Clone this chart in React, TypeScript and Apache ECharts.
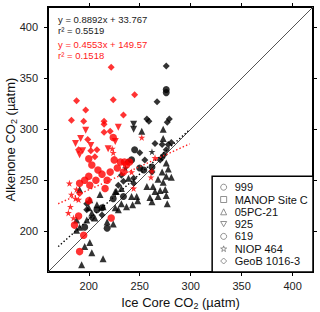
import React, { useEffect, useRef } from "react";
import * as echarts from "echarts";

const AXIS_MIN = 160;
const AXIS_MAX = 420;
const TICKS = [200, 250, 300, 350, 400];

const black05PC21 = [
  [211, 236], [226, 239], [232, 242], [200, 223], [203, 218], [206, 213], [198, 211], [208, 226],
  [218, 209], [224, 207], [196, 185], [201, 189], [203, 179], [214, 173], [193, 167], [232, 227],
  [229, 221], [237, 224], [188, 211], [191, 204], [188, 201], [201, 231], [191, 241], [227, 239],
  [214, 224], [226, 223], [239, 252], [278, 261], [272, 258], [276, 254], [281, 253], [268, 251],
  [273, 248], [257, 244], [263, 244], [265, 239], [270, 240], [275, 241], [276, 235], [260, 233],
  [262, 229], [247, 234], [248, 230], [242, 234], [243, 226], [277, 227], [268, 234], [252, 298],
  [273, 300], [273, 291], [276, 267],
];
const black999 = [
  [224, 232], [218, 203], [234, 234], [213, 223], [196, 204], [208, 221], [245, 280], [242, 270],
  [254, 260], [262, 263], [276, 336], [250, 262], [276, 339],
];
const blackGeoB = [
  [276, 362], [267, 327], [257, 310], [259, 308], [279, 310], [277, 307], [265, 286], [250, 277],
  [278, 285], [281, 287], [276, 280], [272, 272], [274, 275], [272, 285], [229, 245], [234, 249],
  [232, 255], [198, 221], [203, 213], [213, 216], [198, 227], [244, 252], [244, 247], [270, 270],
  [262, 258], [255, 270], [238, 268],
];
const black925 = [[244, 305], [244, 300]];
const blackNIOP = [[262, 278], [236, 262]];

const red619 = [
  [224, 292], [200, 271], [225, 270], [231, 268], [235, 268], [240, 268], [221, 258], [234, 258],
  [207, 250], [218, 250], [200, 254], [196, 250], [201, 245], [216, 242], [191, 247], [209, 260],
  [237, 265], [203, 265], [200, 230], [190, 215], [186, 206], [195, 196], [222, 213], [191, 180],
  [228, 262], [213, 256],
];
const redGeoB = [
  [222, 361], [188, 328], [224, 329], [197, 319], [234, 314], [183, 309], [195, 308], [215, 308],
  [215, 305], [215, 297], [221, 298], [199, 290], [190, 280], [202, 279], [208, 280], [206, 273],
  [245, 334], [191, 237],
];
const red925 = [
  [229, 302], [197, 299], [226, 288], [192, 291], [187, 286], [202, 284], [194, 279], [191, 275],
  [219, 281],
];
const redNIOP = [
  [223, 281], [224, 277], [252, 292], [265, 272], [181, 247], [188, 241], [183, 236], [190, 231],
  [180, 218], [185, 213], [182, 224], [187, 232], [262, 259], [261, 253], [244, 242], [242, 258],
];

const blackFitCoef = [0.8892, 33.767];
const blackFitR2 = 0.5519;
const redFitCoef = [0.4553, 149.57];
const redFitR2 = 0.1518;
const fitXRange = [170, 299];

const siteNames = ["999", "MANOP Site C", "05PC-21", "925", "619", "NIOP 464", "GeoB 1016-3"];

const FONT = "'Liberation Sans', Arial, Helvetica, sans-serif";
const DOWN_TRI = "path://M0,0 L100,0 L50,86.6 Z";
const STAR =
  "path://M50,0 L61.8,36.2 L100,36.2 L69.1,58.8 L80.9,95.1 L50,72.6 L19.1,95.1 L30.9,58.8 L0,36.2 L38.2,36.2 Z";
const legendIcons = ["circle", "rect", "triangle", DOWN_TRI, "circle", STAR, "diamond"];

export default function App() {
  const ref = useRef<HTMLDivElement>(null);
  useEffect(() => {
    if (!ref.current) return;
    const chart = echarts.init(ref.current, undefined, { renderer: "svg" });

    const scatter = (name: string, data: number[][], symbol: string, size: number, color: string, z = 3) => ({
      type: "scatter",
      name,
      data,
      symbol,
      symbolSize: size,
      itemStyle: { color },
      z,
    });
    const fitLine = (coef: number[], color: string) => ({
      type: "line",
      name: "fit-" + color,
      data: fitXRange.map((x) => [x, coef[0] * x + coef[1]]),
      symbol: "none",
      lineStyle: { color, width: 1.4, type: [1.4, 2.2] },
      z: 4,
      silent: true,
    });

    const axisCommon = {
      type: "value",
      min: AXIS_MIN,
      max: AXIS_MAX,
      splitLine: { show: false },
      axisLine: { show: false },
      axisTick: { show: true, length: 4, lineStyle: { color: "#000", width: 1 }, customValues: TICKS },
    };

    const nameRich = {
      n: { fontSize: 13, fontFamily: FONT, color: "#111", lineHeight: 16 },
      s: { fontSize: 9, fontFamily: FONT, color: "#111", lineHeight: 9, padding: [8, 0, 0, 0], verticalAlign: "bottom" },
    };

    const option = {
      animation: false,
      grid: {
        left: 48,
        top: 7,
        width: 265,
        height: 265,
        containLabel: false,
        outerBoundsMode: "none",
        show: true,
        borderColor: "#000",
        borderWidth: 2,
        backgroundColor: "transparent",
      },
      xAxis: [
        {
          ...axisCommon,
          position: "bottom",
          axisLabel: { customValues: TICKS, fontSize: 11, fontFamily: FONT, color: "#222", margin: 8 },
          name: "{n|Ice Core CO}{s|2}{n| (µatm)}",
          nameLocation: "middle",
          nameGap: 22,
          nameMoveOverlap: false,
          nameTextStyle: { rich: nameRich },
        },
        {
          ...axisCommon,
          position: "top",
          axisLabel: { show: false },
        },
      ],
      yAxis: [
        {
          ...axisCommon,
          position: "left",
          axisLabel: { customValues: TICKS, fontSize: 11, fontFamily: FONT, color: "#222", margin: 10 },
          name: "{n|Alkenone CO}{s|2}{n| (µatm)}",
          nameLocation: "middle",
          nameGap: 30,
          nameMoveOverlap: false,
          nameTextStyle: { rich: nameRich },
        },
        {
          ...axisCommon,
          position: "right",
          axisLabel: { show: false },
        },
      ],
      legend: {
        orient: "vertical",
        right: 7,
        bottom: 40,
        padding: [5, 5, 5, 8],
        itemWidth: 6,
        itemHeight: 6,
        itemGap: 0.3,
        backgroundColor: "#fff",
        borderColor: "#000",
        borderWidth: 1.5,
        borderRadius: 0,
        selectedMode: false,
        itemStyle: { color: "rgba(0,0,0,0)", borderColor: "#777", borderWidth: 1 },
        textStyle: { fontSize: 11, fontFamily: FONT, color: "#111", lineHeight: 12, padding: [0, 0, 0, 3] },
        data: siteNames.map((name, i) => ({ name, icon: legendIcons[i] })),
        z: 10,
      },
      graphic: [
        { type: "text", x: 58, y: 19.5, style: { text: `y = ${blackFitCoef[0]}x + ${blackFitCoef[1]}`, fontSize: 9.5, fontFamily: FONT, fill: "#222", verticalAlign: "middle" } },
        { type: "text", x: 58, y: 30, style: { text: `r² = ${blackFitR2}`, fontSize: 9.5, fontFamily: FONT, fill: "#222", verticalAlign: "middle" } },
        { type: "text", x: 58, y: 44, style: { text: `y = ${redFitCoef[0]}x + ${redFitCoef[1]}`, fontSize: 9.5, fontFamily: FONT, fill: "#ff1a1a", verticalAlign: "middle" } },
        { type: "text", x: 58, y: 55, style: { text: `r² = ${redFitR2}`, fontSize: 9.5, fontFamily: FONT, fill: "#ff1a1a", verticalAlign: "middle" } },
      ],
      series: [
        {
          type: "line",
          name: "one-to-one",
          data: [[AXIS_MIN, AXIS_MIN], [AXIS_MAX, AXIS_MAX]],
          symbol: "none",
          lineStyle: { color: "#555", width: 1 },
          z: 2,
          silent: true,
        },
        scatter("999", black999, "circle", 7, "#000"),
        { type: "scatter", name: "MANOP Site C", data: [], symbol: "rect", itemStyle: { color: "#000" } },
        scatter("05PC-21", black05PC21, "triangle", 7, "#000"),
        scatter("925", black925, DOWN_TRI, 7, "#000"),
        scatter("619", red619, "circle", 7.5, "#ff0000", 5),
        scatter("NIOP 464", blackNIOP, STAR, 7, "#000"),
        scatter("GeoB 1016-3", blackGeoB, "diamond", 7, "#000"),
        scatter("925", red925, DOWN_TRI, 7, "#ff0000", 5),
        scatter("NIOP 464", redNIOP, STAR, 7, "#ff0000", 5),
        scatter("GeoB 1016-3", redGeoB, "diamond", 7, "#ff0000", 5),
        fitLine(blackFitCoef, "#000"),
        fitLine(redFitCoef, "#ff2020"),
      ],
    };

    chart.setOption(option as any);
    return () => chart.dispose();
  }, []);

  return (
    <div
      ref={ref}
      style={{ position: "absolute", left: 0, top: 0, width: 320, height: 312, background: "#fff" }}
    />
  );
}
